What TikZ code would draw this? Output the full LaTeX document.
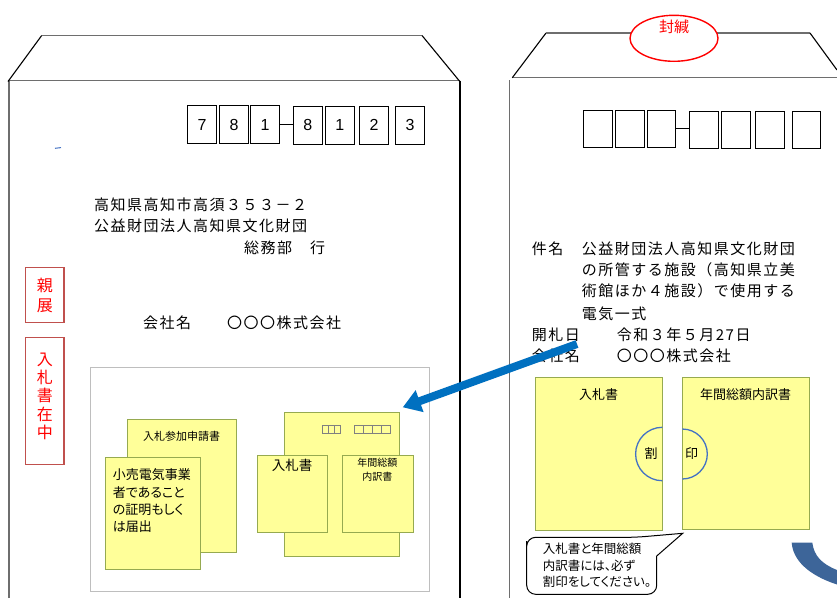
\documentclass[tikz,border=0pt]{standalone}
\usepackage{fontspec}
\usetikzlibrary{arrows.meta}
\setmainfont{Liberation Sans}
\newfontfamily\jpfont[RawFeature=+palt]{Noto Sans CJK JP}
\newfontfamily\jpwide[LetterSpace=10]{Noto Sans CJK JP}
\definecolor{docfill}{RGB}{255,255,153}
\definecolor{docline}{RGB}{150,170,80}
\definecolor{arrowblue}{RGB}{0,112,192}
\definecolor{crescentblue}{RGB}{61,101,153}
\definecolor{sealblue}{RGB}{68,114,196}
\definecolor{stampred}{RGB}{192,80,77}
\definecolor{envline}{RGB}{110,110,110}
\definecolor{boxgray}{RGB}{190,190,190}
\begin{document}
\begin{tikzpicture}[x=1pt,y=-1pt,
  envh/.style={draw=envline, line width=1.1pt},
  envd/.style={draw=black, line width=1.1pt},
  zipbox/.style={draw=black, line width=1pt, minimum width=28.5pt, minimum height=37.5pt, inner sep=0pt, font=\fontsize{16}{18}\selectfont},
  mincho/.style={inner sep=0pt, anchor=west, font=\jpwide\fontsize{15}{18}\selectfont},
  redbox/.style={draw=stampred, line width=1.1pt, minimum width=38.3pt, inner sep=0pt},
  redtext/.style={inner sep=0pt, text=red, align=center},
  docbox/.style={draw=docline, fill=docfill, line width=0.8pt, anchor=north west, inner sep=0pt},
  doctext/.style={inner sep=0pt, font=\jpfont\fontsize{13}{15}\selectfont},
  calltext/.style={inner sep=0pt, anchor=west, font=\jpfont\fontsize{12.5}{15}\selectfont},
  minibox/.style={draw=gray, line width=0.6pt, inner sep=0pt}]
\useasboundingbox (0,0) rectangle (837,598);
\fill[white] (0,0) rectangle (837,598);

% ---------- left envelope ----------
\draw[envh] (9,598) -- (9,80.7) -- (460,80.7);
\draw[envd] (460,80.7) -- (460,598);
\draw[envd] (8,81.5) -- (41.7,35.5);
\draw[envh] (41.7,35.5) -- (422,35.5);
\draw[envd] (422,35.5) -- (460,81.7);
\draw[sealblue, line width=1pt] (55,148.3) -- (61,147.6);

\node[zipbox] (z1) at (202,124.7) {7};
\node[zipbox] (z2) at (234,124.7) {8};
\node[zipbox] (z3) at (265,124.7) {1};
\node[zipbox] (z4) at (307.8,125.3) {8};
\node[zipbox] (z5) at (339.8,125.3) {1};
\node[zipbox] (z6) at (374,125.3) {2};
\node[zipbox] (z7) at (410,125.3) {3};
\draw[line width=0.8pt] (z3.east) -- (z3.east -| z4.west);

\node[mincho] (addr1) at (94,204.5) {高知県高知市高須３５３－２};
\node[mincho] (addr2) at (94,225.7) {公益財団法人高知県文化財団};
\node[mincho] (addr3) at (244,247.7) {総務部　行};
\node[mincho] (lco1) at (143,323) {会社名};
\node[mincho] (lco2) at (227,323) {〇〇〇株式会社};

\node[redbox, minimum height=55pt] (shinten) at (44.85,295.2) {};
\node[redtext, font=\jpfont\fontsize{16}{20}\selectfont] (shintent) at (44.85,295.2) {親\\展};
\node[redbox, minimum height=127.4pt] (zaichu) at (44.85,401) {};
\node[redtext, font=\jpfont\fontsize{16}{18.2}\selectfont] (zaichut) at (44.85,396.3) {入\\札\\書\\在\\中};

% enclosure
\node[draw=boxgray, line width=0.8pt, anchor=north west, minimum width=339pt, minimum height=224pt, inner sep=0pt] (encl) at (90.3,367.3) {};
\node[docbox, minimum width=108.7pt, minimum height=133pt] (sanka) at (127.3,419.3) {};
\node[doctext, font=\jpfont\fontsize{11}{13}\selectfont] (sankat) at (181.7,436) {入札参加申請書};
\node[docbox, minimum width=95pt, minimum height=111.4pt] (kouri) at (105.3,457.3) {};
\node[doctext, anchor=west] (kouri1) at (112.7,475) {小売電気事業};
\node[doctext, anchor=west] (kouri2) at (112.7,492.3) {者であること};
\node[doctext, anchor=west] (kouri3) at (112.7,510) {の証明もしく};
\node[doctext, anchor=west] (kouri4) at (112.7,526.7) {は届出};

\node[docbox, minimum width=114.4pt, minimum height=144.6pt] (smallenv) at (284.3,411.7) {};
\foreach \i/\xx/\ww in {1/322.3/6,2/328.3/6,3/334.3/6,4/354/9,5/363/9,6/372/9,7/381/9}
  \node[minibox, anchor=west, minimum width=\ww pt, minimum height=8pt] (mb\i) at (\xx,429) {};
\node[docbox, minimum width=70.6pt, minimum height=77.3pt] (nyuS) at (256.7,454.7) {};
\node[doctext, font=\jpfont\fontsize{13.5}{15}\selectfont] (nyuSt) at (292,465.5) {入札書};
\node[docbox, minimum width=70.7pt, minimum height=77.3pt] (uchiS) at (342,454.7) {};
\node[doctext, font=\jpfont\fontsize{10}{12}\selectfont] (uchiSt1) at (377.3,463) {年間総額};
\node[doctext, font=\jpfont\fontsize{10}{12}\selectfont] (uchiSt2) at (377.3,476.5) {内訳書};

% ---------- right envelope ----------
\draw[envh] (509.3,598) -- (509.3,80) ;
\draw[envh] (512,77.5) -- (837,77.5);
\draw[envd] (512.3,77.7) -- (546,33);
\draw[envh] (546,33) -- (810,33);
\draw[envd] (810,33) -- (837,70);
\draw[red, line width=1.4pt, fill=white] (674,38.3) ellipse [x radius=44, y radius=23];
\node[inner sep=0pt, text=red, font=\jpfont\fontsize{15}{17}\selectfont] (fukan) at (674,26.7) {封緘};

\node[zipbox] (c1) at (598.2,128.8) {};
\node[zipbox] (c2) at (630,128.8) {};
\node[zipbox] (c3) at (661.3,128.8) {};
\node[zipbox] (c4) at (704.2,130) {};
\node[zipbox] (c5) at (736,130) {};
\node[zipbox] (c6) at (770,130) {};
\node[zipbox] (c7) at (806.3,130) {};
\draw[line width=0.8pt] (c3.east) -- (c3.east -| c4.west);

\node[mincho] (kenmei) at (531.7,249) {件名};
\node[mincho] (r1) at (581.7,249) {公益財団法人高知県文化財団};
\node[mincho] (r2) at (581.7,269.5) {の所管する施設（高知県立美};
\node[mincho] (r3) at (581.7,290.5) {術館ほか４施設）で使用する};
\node[mincho] (r4) at (581.7,313.5) {電気一式};
\node[mincho] (kaisatsu) at (531.7,334.5) {開札日};
\node[mincho] (kdate) at (616.7,334.5) {令和３年５月27日};
\node[mincho] (rco1) at (531.7,356) {会社名};
\node[mincho] (rco2) at (616.7,356) {〇〇〇株式会社};

\node[docbox, minimum width=127.3pt, minimum height=152.7pt] (nyuR) at (535,377.3) {};
\node[doctext] (nyuRt) at (598.7,395) {入札書};
\node[docbox, minimum width=126.7pt, minimum height=152pt] (uchiR) at (682.3,377.3) {};
\node[doctext] (uchiRt) at (745.7,395) {年間総額内訳書};

\begin{scope}
  \clip (600,400) rectangle (662.3,500);
  \draw[sealblue, line width=1.3pt] (662.3,454) circle [radius=26.7];
\end{scope}
\begin{scope}
  \clip (682.3,400) rectangle (740,500);
  \draw[sealblue, line width=1.3pt] (682.3,454) circle [radius=25];
\end{scope}
\node[doctext] (wari) at (651,454) {割};
\node[doctext] (in) at (691.7,454) {印};

% callout
\draw[line width=1pt, fill=white] (526.7,550) [rounded corners=9pt] |- (636,537.3) [sharp corners] -- (682.7,533.3) -- (656.7,556) [rounded corners=9pt] |- (526.7,594.3) -- cycle;
\node[calltext] (call1) at (542.7,548.3) {入札書と年間総額};
\node[calltext] (call2) at (542.7,565.7) {内訳書には、必ず};
\node[calltext] (call3) at (542.7,581.7) {割印をしてください。};

% blue arrow
\coordinate (arrTail) at (577,344);
\coordinate (arrTip) at (402.7,407.3);
\draw[arrowblue, line width=8pt, -{Triangle[width=22pt,length=18pt]}] (arrTail) -- (arrTip);

% crescent
\fill[crescentblue] (791.7,542.7) -- (812.3,542.7) .. controls (814,556) and (822,564) .. (837,570) -- (837,584.5) .. controls (808,575) and (793,560) .. (791.7,542.7) -- cycle;
\end{tikzpicture}
\end{document}
